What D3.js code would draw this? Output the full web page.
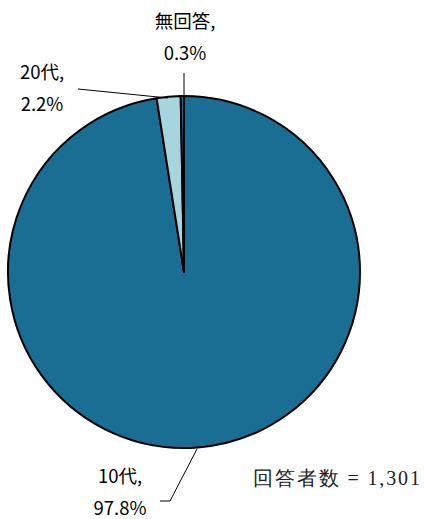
<!DOCTYPE html>
<html>
<head>
<meta charset="utf-8">
<script src="https://d3js.org/d3.v7.min.js"></script>
<style>
  body { margin: 0; background: #fff; }
  text { font-family: "Noto Sans CJK JP", "Noto Sans", sans-serif; }
</style>
</head>
<body>
<script>

  var categories = ["10代", "20代", "無回答"];
  var values = [97.8, 2.2, 0.3];
  var colors = ["#1b6e93", "#a6d5de", "#1b6e93"];
  var total = "1,301";

  var svg = d3.select("body").append("svg")
    .attr("width", 424)
    .attr("height", 519);

  var cx = 184, cy = 272, r = 176;

  var pie = d3.pie().sort(null).value(function(d) { return d; });
  var arc = d3.arc().innerRadius(0).outerRadius(r);
  var arcs = pie(values);

  var g = svg.append("g").attr("transform", "translate(" + cx + "," + cy + ")");

  g.selectAll("path")
    .data(arcs)
    .enter().append("path")
    .attr("d", arc)
    .attr("fill", function(d, i) { return colors[i]; })
    .attr("stroke", "#000")
    .attr("stroke-width", 2)
    .attr("stroke-linejoin", "round");

  // label positions (label text anchor, leader points)
  var labels = [
    { x: 120, y: 477, pts: [[160, 501], [170, 501], [197, 449]] },
    { x: 42, y: 73, pts: [[78, 89], [168, 98]] },
    { x: 185, y: 22, pts: [[184, 73], [184, 98]] }
  ];

  labels.forEach(function(l, i) {
    svg.append("path")
      .attr("d", d3.line()(l.pts))
      .attr("fill", "none")
      .attr("stroke", "#000")
      .attr("stroke-width", 1);
    var t = svg.append("text")
      .attr("x", l.x)
      .attr("y", l.y + 6)
      .attr("text-anchor", "middle")
      .attr("font-size", 18.5)
      .attr("fill", "#000");
    t.append("tspan").attr("x", l.x).text(categories[i] + ",");
    t.append("tspan").attr("x", l.x).attr("dy", 32).text(values[i].toFixed(1) + "%");
  });

  svg.append("text")
    .attr("x", 253)
    .attr("y", 485)
    .attr("font-size", 20)
    .attr("fill", "#222")
    .attr("textLength", 167)
    .attr("lengthAdjust", "spacing")
    .style("font-family", "'Liberation Serif', 'DejaVu Serif', serif")
    .text("回答者数 = " + total);

</script>
</body>
</html>
